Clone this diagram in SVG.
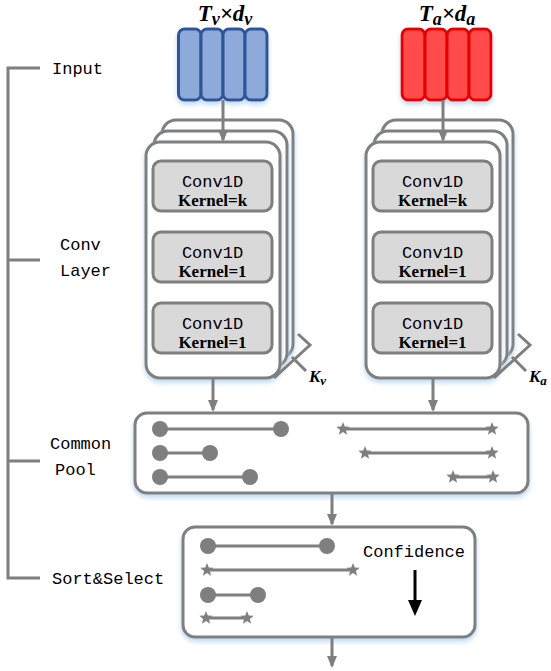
<svg xmlns="http://www.w3.org/2000/svg" width="551" height="671" viewBox="0 0 551 671">
<style>
.lbl{font-family:"Liberation Mono","DejaVu Sans Mono",monospace;font-size:17px;fill:#000}
.cv{font-family:"Liberation Mono","DejaVu Sans Mono",monospace;font-size:17px;fill:#000;text-anchor:middle}
.kr{font-family:"Liberation Serif","Times New Roman",serif;font-size:17px;font-weight:bold;fill:#000;text-anchor:middle}
.ttl{font-family:"Liberation Serif","Times New Roman",serif;font-size:23px;font-weight:bold;font-style:italic;fill:#000;text-anchor:middle}
.kk{font-family:"Liberation Serif","Times New Roman",serif;font-size:17px;font-weight:bold;font-style:italic;fill:#000}
.layer{fill:#fff;stroke:#7f7f7f;stroke-width:3}
.gbox{fill:#d9d9d9;stroke:#7f7f7f;stroke-width:3}
.blue{fill:#8eaadb;stroke:#2f5597;stroke-width:3}
.red{fill:#ff4b4b;stroke:#e60000;stroke-width:3}
.conn{stroke:#7f7f7f;stroke-width:3;fill:none}
.seg{stroke:#7f7f7f;stroke-width:3;fill:none}
.dot{fill:#7f7f7f}
.brk{stroke:#7f7f7f;stroke-width:3;fill:none}
</style>
<defs>
<filter id="glow" x="-10%" y="-10%" width="120%" height="130%">
<feGaussianBlur in="SourceAlpha" stdDeviation="2.5" result="b"/>
<feOffset in="b" dx="0" dy="3" result="o"/>
<feFlood flood-color="#bdd7ee"/>
<feComposite in2="o" operator="in" result="s"/>
<feMerge><feMergeNode in="s"/><feMergeNode in="SourceGraphic"/></feMerge>
</filter>
<marker id="ah" viewBox="0 0 12 10" refX="10" refY="5" markerWidth="12" markerHeight="10" orient="auto" markerUnits="userSpaceOnUse">
<path d="M0,0 L12,5 L0,10 z" fill="#7f7f7f"/>
</marker>
<marker id="ahb" viewBox="0 0 16 14" refX="12" refY="7" markerWidth="16" markerHeight="14" orient="auto" markerUnits="userSpaceOnUse">
<path d="M0,0 L16,7 L0,14 z" fill="#000"/>
</marker>
<path id="star" d="M0,-7 L1.8,-2.4 L6.7,-2.2 L2.9,0.9 L4.1,5.7 L0,3 L-4.1,5.7 L-2.9,0.9 L-6.7,-2.2 L-1.8,-2.4 Z" fill="#7f7f7f"/>
</defs>

<g id="side-bracket">
<path class="brk" d="M40,68 H8 V578 H40 M8,260 H40 M8,461 H40"/>
<text class="lbl" x="52" y="74">Input</text>
<text class="lbl" x="60" y="250">Conv</text>
<text class="lbl" x="60" y="276">Layer</text>
<text class="lbl" x="50" y="449">Common</text>
<text class="lbl" x="55" y="475">Pool</text>
<text class="lbl" x="52" y="584">Sort&amp;Select</text>
</g>

<g id="input-v">
<text class="ttl" x="225" y="21">T<tspan font-size="18" dy="4">v</tspan><tspan dy="-4">×d</tspan><tspan font-size="18" dy="4">v</tspan></text>
<g filter="url(#glow)">
<rect class="blue" x="178.5" y="29" width="22.5" height="71" rx="6"/>
<rect class="blue" x="201" y="29" width="22" height="71" rx="6"/>
<rect class="blue" x="223" y="29" width="22" height="71" rx="6"/>
<rect class="blue" x="245" y="29" width="22" height="71" rx="6"/>
</g>
</g>

<g id="input-a">
<text class="ttl" x="447" y="21">T<tspan font-size="18" dy="4">a</tspan><tspan dy="-4">×d</tspan><tspan font-size="18" dy="4">a</tspan></text>
<g filter="url(#glow)">
<rect class="red" x="402" y="29" width="23" height="71" rx="6"/>
<rect class="red" x="425" y="29" width="22" height="71" rx="6"/>
<rect class="red" x="447" y="29" width="22" height="71" rx="6"/>
<rect class="red" x="469" y="29" width="22" height="71" rx="6"/>
</g>
</g>

<g id="conv-v">
<rect class="layer" x="162" y="120" width="131" height="238" rx="14" filter="url(#glow)"/>
<rect class="layer" x="154" y="131" width="133" height="236" rx="14" filter="url(#glow)"/>
<rect class="layer" x="146" y="142" width="134" height="236" rx="14" filter="url(#glow)"/>
<rect class="gbox" x="153" y="161" width="119" height="50" rx="8"/>
<text class="cv" x="212.5" y="187">Conv1D</text>
<text class="kr" x="212.5" y="206">Kernel=k</text>
<rect class="gbox" x="153" y="232" width="119" height="50" rx="8"/>
<text class="cv" x="212.5" y="258">Conv1D</text>
<text class="kr" x="212.5" y="277">Kernel=1</text>
<rect class="gbox" x="153" y="303" width="119" height="50" rx="8"/>
<text class="cv" x="212.5" y="329">Conv1D</text>
<text class="kr" x="212.5" y="348">Kernel=1</text>
<path class="brk" d="M298,334 L310,345 L274,378 M292,357 L306,371"/>
<text class="kk" x="309" y="382">K<tspan font-size="13" dy="3">v</tspan></text>
</g>

<g id="conv-a">
<rect class="layer" x="382" y="120" width="131" height="238" rx="14" filter="url(#glow)"/>
<rect class="layer" x="374" y="131" width="133" height="236" rx="14" filter="url(#glow)"/>
<rect class="layer" x="366" y="142" width="134" height="236" rx="14" filter="url(#glow)"/>
<rect class="gbox" x="373" y="161" width="119" height="50" rx="8"/>
<text class="cv" x="432.5" y="187">Conv1D</text>
<text class="kr" x="432.5" y="206">Kernel=k</text>
<rect class="gbox" x="373" y="232" width="119" height="50" rx="8"/>
<text class="cv" x="432.5" y="258">Conv1D</text>
<text class="kr" x="432.5" y="277">Kernel=1</text>
<rect class="gbox" x="373" y="303" width="119" height="50" rx="8"/>
<text class="cv" x="432.5" y="329">Conv1D</text>
<text class="kr" x="432.5" y="348">Kernel=1</text>
<path class="brk" d="M518,334 L530,345 L494,378 M512,357 L526,371"/>
<text class="kk" x="529" y="382">K<tspan font-size="13" dy="3">a</tspan></text>
</g>

<g id="common-pool">
<rect class="layer" x="135" y="413" width="393" height="80" rx="12" filter="url(#glow)"/>
<path class="seg" d="M160,429 H281 M160,453 H210 M160,477 H250 M343,429 H492 M365,453 H492 M453,477 H493"/>
<circle class="dot" cx="160" cy="429" r="8"/><circle class="dot" cx="281" cy="429" r="8"/>
<circle class="dot" cx="160" cy="453" r="8"/><circle class="dot" cx="210" cy="453" r="8"/>
<circle class="dot" cx="160" cy="477" r="8"/><circle class="dot" cx="250" cy="477" r="8"/>
<use href="#star" x="343" y="429"/><use href="#star" x="492" y="429"/>
<use href="#star" x="365" y="453"/><use href="#star" x="492" y="453"/>
<use href="#star" x="453" y="477"/><use href="#star" x="493" y="477"/>
</g>

<g id="sort-select">
<rect class="layer" x="183" y="527" width="292" height="110" rx="12" filter="url(#glow)"/>
<path class="seg" d="M208,546 H327 M207,570 H353 M208,595 H258 M206,618 H247"/>
<circle class="dot" cx="208" cy="546" r="8"/><circle class="dot" cx="327" cy="546" r="8"/>
<circle class="dot" cx="208" cy="595" r="8"/><circle class="dot" cx="258" cy="595" r="8"/>
<use href="#star" x="207" y="570"/><use href="#star" x="353" y="570"/>
<use href="#star" x="206" y="618"/><use href="#star" x="247" y="618"/>
<text class="lbl" x="363" y="557">Confidence</text>
<line x1="415" y1="570" x2="415" y2="612" stroke="#000" stroke-width="3" marker-end="url(#ahb)"/>
</g>

<g id="connectors">
<line class="conn" x1="223" y1="100" x2="223" y2="140" marker-end="url(#ah)"/>
<line class="conn" x1="443" y1="100" x2="443" y2="140" marker-end="url(#ah)"/>
<line class="conn" x1="213" y1="378" x2="213" y2="410" marker-end="url(#ah)"/>
<line class="conn" x1="433" y1="378" x2="433" y2="410" marker-end="url(#ah)"/>
<line class="conn" x1="332" y1="493" x2="332" y2="524" marker-end="url(#ah)"/>
<line class="conn" x1="332" y1="637" x2="332" y2="666" marker-end="url(#ah)"/>
</g>
</svg>
